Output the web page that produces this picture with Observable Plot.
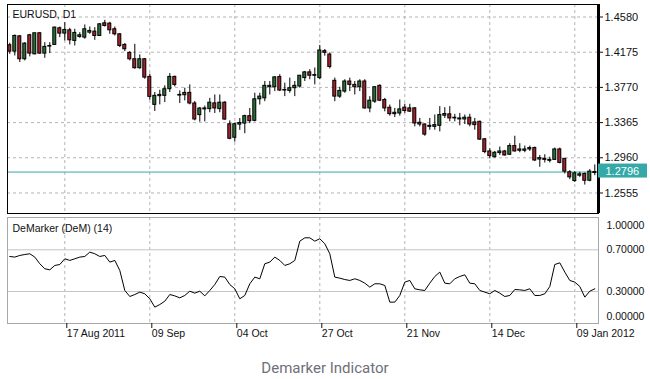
<!DOCTYPE html>
<html><head><meta charset="utf-8">
<script src="https://cdn.jsdelivr.net/npm/d3@7"></script>
<script src="https://cdn.jsdelivr.net/npm/@observablehq/plot@0.6"></script>
<style>
html,body{margin:0;padding:0;background:#fff}
body{width:650px;height:379px;overflow:hidden;position:relative;font-family:"Liberation Sans",Arial,sans-serif}
#price{position:absolute;left:0;top:0}
#dem{position:absolute;left:0;top:215px}
#cap{position:absolute;left:0;width:650px;top:359px;line-height:18px;text-align:center;font-family:Roboto,sans-serif;font-size:15px;color:#6f6f7a}
</style></head><body>
<div id="price"></div><div id="dem"></div><div id="cap">Demarker Indicator</div>
<script>
const symbolTitle = "EURUSD, D1";
const indicatorTitle = "DeMarker (DeM) (14)";
const priceTicks = [1.4580, 1.4175, 1.3770, 1.3365, 1.2960, 1.2555];
const demLevels = [0.3, 0.7];
const demEnds = [1.0, 0.0];
const lastPrice = 1.2796;
const dateTickIdx = [11, 28, 45, 62, 79, 96, 113];
const dateLabels = ["17 Aug 2011", "09 Sep", "04 Oct", "27 Oct", "21 Nov", "14 Dec", "09 Jan 2012"];

const open = [
1.4255,1.4182,1.4358,1.4094,1.4370,1.4151,1.4393,1.4159,1.4240,1.4259,
1.4450,1.4389,1.4427,1.4305,1.4351,1.4343,1.4400,1.4412,1.4362,1.4508,
1.4504,1.4439,1.4381,1.4259,1.4167,1.4094,1.3991,1.4094,1.3891,1.3569,
1.3669,1.3673,1.3749,1.3891,1.3676,1.3680,1.3707,1.3585,1.3451,1.3528,
1.3520,1.3586,1.3520,1.3594,1.3346,1.3191,1.3342,1.3354,1.3439,1.3385,
1.3633,1.3644,1.3772,1.3772,1.3889,1.3741,1.3730,1.3761,1.3780,1.3877,
1.3943,1.3912,1.3877,1.4187,1.4148,1.3846,1.3664,1.3722,1.3838,1.3799,
1.3772,1.3838,1.3528,1.3606,1.3788,1.3625,1.3536,1.3478,1.3470,1.3537,
1.3529,1.3529,1.3363,1.3343,1.3316,1.3316,1.3328,1.3444,1.3460,1.3413,
1.3401,1.3401,1.3421,1.3367,1.3374,1.3173,1.3033,1.2967,1.3014,1.3033,
1.2995,1.3095,1.3041,1.3041,1.3056,1.3072,1.2940,1.2936,1.2925,1.2936,
1.3056,1.2948,1.2793,1.2692,1.2754,1.2774,1.2696,1.2785];
const high = [
1.4278,1.4374,1.4366,1.4285,1.4381,1.4393,1.4400,1.4285,1.4285,1.4465,
1.4465,1.4515,1.4450,1.4439,1.4400,1.4488,1.4465,1.4458,1.4504,1.4542,
1.4519,1.4465,1.4389,1.4274,1.4182,1.4266,1.4144,1.4102,1.3922,1.3711,
1.3738,1.3788,1.3929,1.3899,1.3730,1.3761,1.3799,1.3608,1.3539,1.3555,
1.3644,1.3683,1.3683,1.3606,1.3385,1.3361,1.3412,1.3451,1.3528,1.3703,
1.3703,1.3838,1.3838,1.3896,1.3916,1.3819,1.3877,1.3838,1.3908,1.3954,
1.3974,1.3993,1.4253,1.4206,1.4168,1.3877,1.3772,1.3858,1.3877,1.3838,
1.3858,1.3858,1.3664,1.3780,1.3799,1.3644,1.3567,1.3528,1.3625,1.3576,
1.3576,1.3537,1.3413,1.3351,1.3413,1.3452,1.3549,1.3537,1.3549,1.3460,
1.3471,1.3452,1.3460,1.3413,1.3382,1.3181,1.3064,1.3033,1.3084,1.3045,
1.3122,1.3208,1.3122,1.3095,1.3095,1.3084,1.2987,1.2995,1.2967,1.3072,
1.3072,1.2948,1.2812,1.2801,1.2793,1.2785,1.2824,1.2878];
const low = [
1.4151,1.4132,1.4056,1.4075,1.4121,1.4144,1.4151,1.4105,1.4159,1.4255,
1.4343,1.4305,1.4259,1.4247,1.4335,1.4324,1.4381,1.4312,1.4358,1.4465,
1.4381,1.4362,1.4228,1.4182,1.4075,1.3979,1.3979,1.3864,1.3623,1.3493,
1.3569,1.3596,1.3711,1.3776,1.3585,1.3615,1.3569,1.3385,1.3370,1.3373,
1.3478,1.3470,1.3478,1.3392,1.3168,1.3141,1.3276,1.3237,1.3354,1.3373,
1.3567,1.3606,1.3683,1.3722,1.3722,1.3664,1.3703,1.3664,1.3761,1.3838,
1.3858,1.3799,1.3858,1.4129,1.3982,1.3606,1.3644,1.3703,1.3722,1.3683,
1.3722,1.3520,1.3478,1.3586,1.3606,1.3489,1.3439,1.3423,1.3439,1.3471,
1.3483,1.3316,1.3316,1.3208,1.3277,1.3277,1.3258,1.3413,1.3374,1.3374,
1.3328,1.3343,1.3316,1.3277,1.3161,1.3006,1.2948,1.2956,1.2987,1.2979,
1.2987,1.3026,1.3018,1.3018,1.3033,1.2917,1.2851,1.2901,1.2901,1.2929,
1.2890,1.2774,1.2708,1.2677,1.2735,1.2646,1.2684,1.2754];
const close = [
1.4182,1.4362,1.4094,1.4274,1.4159,1.4393,1.4159,1.4236,1.4247,1.4458,
1.4389,1.4431,1.4312,1.4397,1.4370,1.4439,1.4420,1.4362,1.4496,1.4477,
1.4427,1.4381,1.4247,1.4209,1.4094,1.3991,1.4094,1.3883,1.3661,1.3673,
1.3684,1.3749,1.3891,1.3799,1.3684,1.3707,1.3585,1.3401,1.3527,1.3517,
1.3594,1.3528,1.3594,1.3400,1.3179,1.3346,1.3361,1.3439,1.3381,1.3633,
1.3664,1.3788,1.3788,1.3885,1.3734,1.3734,1.3761,1.3788,1.3904,1.3943,
1.3904,1.3904,1.4195,1.4168,1.4005,1.3664,1.3730,1.3838,1.3799,1.3772,
1.3838,1.3528,1.3617,1.3772,1.3617,1.3528,1.3462,1.3462,1.3517,1.3498,
1.3491,1.3355,1.3343,1.3227,1.3328,1.3336,1.3452,1.3464,1.3413,1.3421,
1.3413,1.3421,1.3343,1.3336,1.3169,1.3026,1.2979,1.3018,1.3033,1.2987,
1.3095,1.3033,1.3056,1.3056,1.3072,1.2929,1.2956,1.2948,1.2936,1.3056,
1.2901,1.2801,1.2735,1.2781,1.2770,1.2696,1.2801,1.2796];
const demarker = [
0.636,0.630,0.646,0.655,0.662,0.630,0.566,0.518,0.508,0.550,
0.559,0.614,0.598,0.614,0.630,0.636,0.678,0.662,0.636,0.646,
0.582,0.598,0.502,0.310,0.252,0.271,0.294,0.278,0.230,0.150,
0.175,0.207,0.271,0.258,0.239,0.262,0.303,0.284,0.303,0.258,
0.310,0.367,0.444,0.438,0.367,0.326,0.230,0.262,0.374,0.438,
0.422,0.566,0.582,0.630,0.598,0.550,0.566,0.598,0.783,0.815,
0.815,0.783,0.806,0.758,0.662,0.438,0.428,0.415,0.406,0.422,
0.406,0.380,0.342,0.374,0.374,0.358,0.198,0.198,0.262,0.390,
0.406,0.326,0.316,0.310,0.380,0.444,0.486,0.380,0.374,0.422,
0.444,0.460,0.380,0.374,0.310,0.294,0.278,0.310,0.284,0.252,
0.262,0.319,0.316,0.310,0.326,0.262,0.262,0.278,0.348,0.559,
0.575,0.486,0.406,0.390,0.348,0.246,0.303,0.326];

const bars = open.map((o, i) => ({i, open: o, high: high[i], low: low[i], close: close[i], dem: demarker[i]}));
const xDomain = [-0.46, 117.74];
const gridStyle = {stroke: "#b4b4b4", strokeOpacity: 1, strokeDasharray: "3,3"};
const bull = "#2b6e35", bear = "#a3242a", teal = "#35a9a7";
const axText = {label: null, fill: "#111"};

const pricePlot = Plot.plot({
  width: 650, height: 215,
  marginLeft: 7, marginRight: 52, marginTop: 4, marginBottom: 2,
  x: {domain: xDomain, axis: null, label: null},
  y: {domain: [1.2319, 1.4724], axis: null, label: null},
  style: {fontFamily: "Liberation Sans, Arial, sans-serif", fontSize: "11px", color: "#111", background: "white", overflow: "visible"},
  marks: [
    Plot.gridY(priceTicks, gridStyle),
    Plot.gridX(dateTickIdx, gridStyle),
    Plot.ruleY([lastPrice], {stroke: teal, strokeWidth: 1}),
    Plot.ruleX(bars, {x: "i", y1: "low", y2: "high", stroke: "#000", strokeWidth: 1}),
    Plot.rect(bars, {x1: d => d.i - 0.3, x2: d => d.i + 0.3, y1: "open", y2: "close",
      fill: d => d.close >= d.open ? bull : bear, stroke: "#000", strokeWidth: 1}),
    Plot.frame({stroke: "#000"}),
    Plot.ruleX([xDomain[1]], {stroke: "#000", strokeWidth: 3}),
    Plot.axisY(priceTicks, {...axText, anchor: "right", tickSize: 4, tickPadding: 2, tickFormat: d => d.toFixed(4), fontSize: 11}),
    Plot.rect([lastPrice], {x1: () => xDomain[1], x2: () => xDomain[1] + 9.8, y1: d => d, y2: d => d, insetTop: -8, insetBottom: -6, fill: teal}),
    Plot.text([lastPrice], {x: () => xDomain[1], y: d => d, text: d => d.toFixed(4), dx: 7, dy: -1, textAnchor: "start", fill: "white", fontSize: 11}),
    Plot.text([symbolTitle], {frameAnchor: "top-left", text: d => d, dx: 5, dy: 6, fontSize: 10.5, fill: "#111"})
  ]
});
document.getElementById("price").appendChild(pricePlot);

const demPlot = Plot.plot({
  width: 650, height: 130,
  marginLeft: 7, marginRight: 52, marginTop: 2, marginBottom: 22,
  x: {domain: xDomain, axis: null, label: null},
  y: {domain: [-0.007, 1.01], axis: null, label: null},
  style: {fontFamily: "Liberation Sans, Arial, sans-serif", fontSize: "10.5px", color: "#111", background: "white", overflow: "visible"},
  marks: [
    Plot.gridX(dateTickIdx, gridStyle),
    Plot.ruleY(demLevels, {stroke: "#c4c4c4", strokeWidth: 1}),
    Plot.frame({stroke: "#a8a8a8"}),
    Plot.line(bars, {x: "i", y: "dem", stroke: "#000", strokeWidth: 1}),
    Plot.axisX(dateTickIdx, {...axText, anchor: "bottom", tickSize: 5, tickPadding: 1, textAnchor: "start", dx: 2,
      tickFormat: d => dateLabels[dateTickIdx.indexOf(d)], fontSize: 10.5}),
    Plot.axisY(demLevels, {...axText, anchor: "right", tickSize: 0, tickPadding: 8, tickFormat: d => d.toFixed(5), fontSize: 10.5}),
    Plot.axisY([demEnds[0]], {...axText, anchor: "right", tickSize: 0, tickPadding: 8, dy: 7, tickFormat: d => d.toFixed(5), fontSize: 10.5}),
    Plot.axisY([demEnds[1]], {...axText, anchor: "right", tickSize: 0, tickPadding: 8, dy: -6, tickFormat: d => d.toFixed(5), fontSize: 10.5}),
    Plot.text([indicatorTitle], {frameAnchor: "top-left", text: d => d, dx: 5, dy: 7, fontSize: 10.5, fill: "#111"})
  ]
});
document.getElementById("dem").appendChild(demPlot);
</script>
</body></html>
